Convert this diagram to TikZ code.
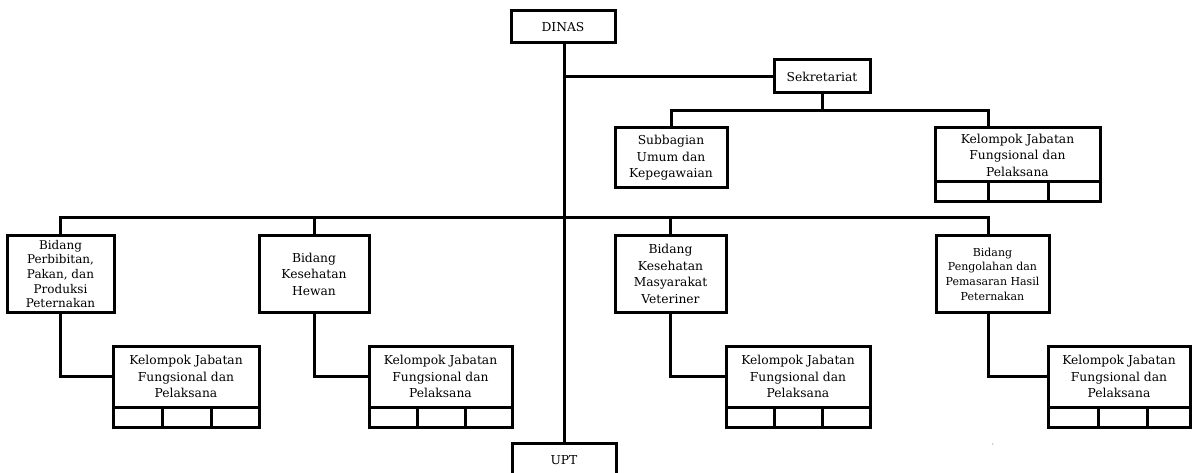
\documentclass[tikz,border=0pt]{standalone}
\usepackage{fontspec}
\setmainfont{DejaVu Serif}
\begin{document}
\begin{tikzpicture}[x=1pt,y=-1pt,
  box/.style={draw=black,line width=3pt,fill=white,align=center,inner sep=0pt,outer sep=0pt,
    font=\fontsize{12.3}{16.5}\selectfont},
  tight/.style={font=\fontsize{12}{14.7}\selectfont},
  small/.style={font=\fontsize{11}{14.7}\selectfont},
  conn/.style={draw=black,line width=3pt,line join=miter},
  cell/.style={draw=black,line width=3pt}]
\useasboundingbox (0,0) rectangle (1192,473);
% top level
\node[box,minimum width=104pt,minimum height=32pt] (dinas) at (563,27) {DINAS};
\node[box,minimum width=96pt,minimum height=33pt] (sek) at (822,76.5) {Sekretariat};
\node[box,minimum width=112pt,minimum height=60pt] (sub) at (671,158) {Subbagian\\Umum dan\\Kepegawaian};
\node[box,minimum width=165pt,minimum height=54pt] (kt) at (1017.5,155) {Kelompok Jabatan\\Fungsional dan\\Pelaksana};
\node[box,minimum width=104pt,minimum height=38pt] (upt) at (564,462) {\raisebox{4pt}{UPT}};
% bidang
\node[box,tight,minimum width=107pt,minimum height=76pt] (b1) at (60.5,274) {Bidang\\Perbibitan,\\Pakan, dan\\Produksi\\Peternakan};
\node[box,minimum width=110pt,minimum height=76pt] (b2) at (314,274) {Bidang\\Kesehatan\\Hewan};
\node[box,minimum width=111pt,minimum height=76pt] (b3) at (670.5,274) {Bidang\\Kesehatan\\Masyarakat\\Veteriner};
\node[box,small,minimum width=113pt,minimum height=76pt] (b4) at (992.5,274) {Bidang\\Pengolahan dan\\Pemasaran Hasil\\Peternakan};
% kelompok boxes
\node[box,minimum width=146pt,minimum height=61pt] (k1) at (186,376.5) {Kelompok Jabatan\\Fungsional dan\\Pelaksana};
\node[box,minimum width=143pt,minimum height=61pt] (k2) at (440.5,376.5) {Kelompok Jabatan\\Fungsional dan\\Pelaksana};
\node[box,minimum width=144pt,minimum height=61pt] (k3) at (798,376.5) {Kelompok Jabatan\\Fungsional dan\\Pelaksana};
\node[box,minimum width=142pt,minimum height=61pt] (k4) at (1119,376.5) {Kelompok Jabatan\\Fungsional dan\\Pelaksana};
% cell rows
\draw[cell] (kt.south west) rectangle (kt.south east |- 0,202);
\draw[cell] (988,182) -- (988,202) (1048,182) -- (1048,202);
\draw[cell] (k1.south west) rectangle (k1.south east |- 0,427);
\draw[cell] (162,407) -- (162,427) (211,407) -- (211,427);
\draw[cell] (k2.south west) rectangle (k2.south east |- 0,427);
\draw[cell] (417,407) -- (417,427) (465,407) -- (465,427);
\draw[cell] (k3.south west) rectangle (k3.south east |- 0,427);
\draw[cell] (774,407) -- (774,427) (822,407) -- (822,427);
\draw[cell] (k4.south west) rectangle (k4.south east |- 0,427);
\draw[cell] (1098,407) -- (1098,427) (1147,407) -- (1147,427);
% connectors
\coordinate (trunk) at (564,0);
\draw[conn] (trunk |- dinas.south) -- (trunk |- upt.north);
\draw[conn] (trunk |- sek.west) -- (sek.west);
\coordinate (sbus) at (822,111);
\draw[conn] (sek.south) -- (sbus);
\draw[conn] (sub.north) -- (sub.north |- sbus) -- (988,111) -- (988,128);
\coordinate (bbus) at (0,218);
\draw[conn] (b1.north) -- (b1.north |- bbus) -- (988,218) -- (988,236);
\draw[conn] (b2.north) -- (b2.north |- bbus);
\draw[conn] (b3.north) -- (b3.north |- bbus);
\draw[conn] (b1.south) -- (b1.south |- k1.west) -- (k1.west);
\draw[conn] (b2.south) -- (b2.south |- k2.west) -- (k2.west);
\draw[conn] (b3.south) -- (b3.south |- k3.west) -- (k3.west);
\draw[conn] (988,312) -- (988,376.5) -- (k4.west);
\node[font=\tiny,inner sep=0pt] (tick) at (993,446) {`};
\end{tikzpicture}
\end{document}
